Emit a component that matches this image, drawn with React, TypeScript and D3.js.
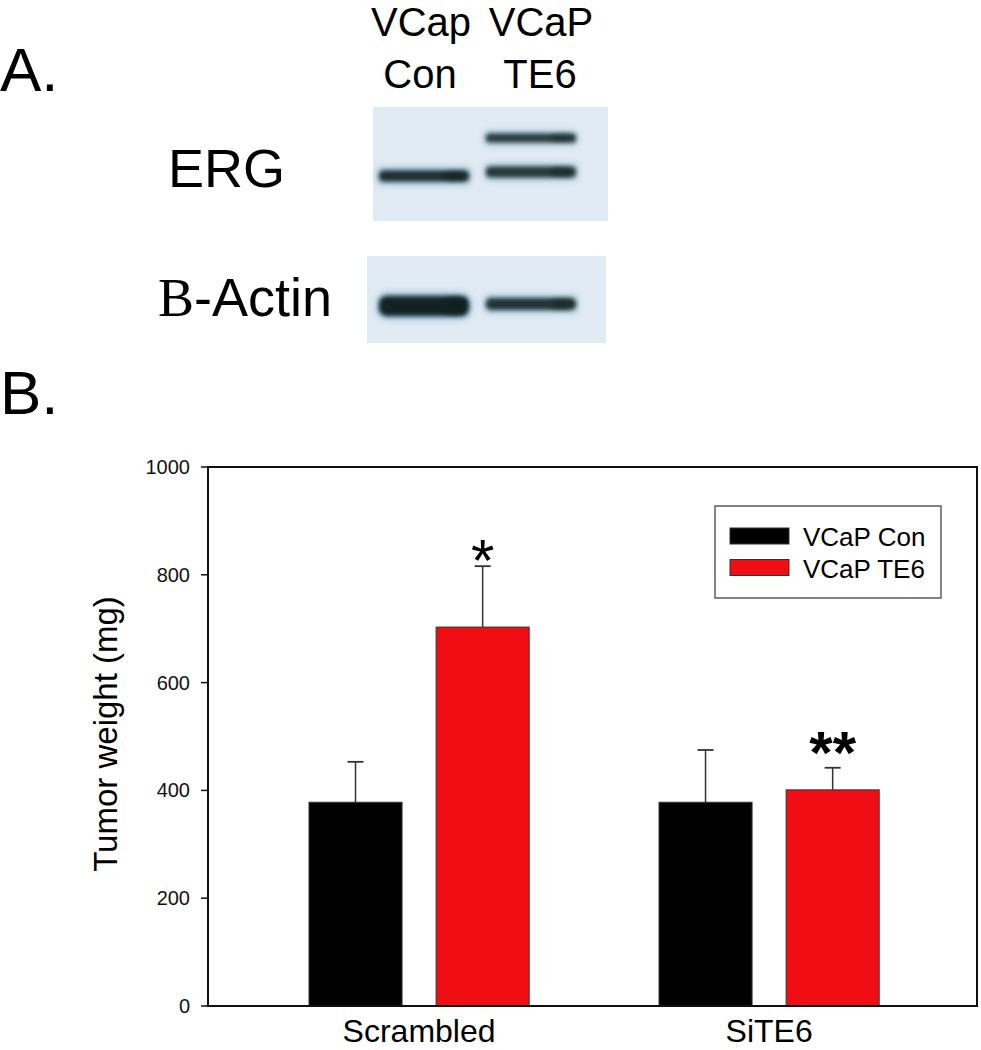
import React from "react";
import * as d3 from "d3";

// ---- Panel B data ----
const groups = ["Scrambled", "SiTE6"];
const seriesNames = ["VCaP Con", "VCaP TE6"];
const seriesColors = ["#000000", "#f10d14"];
const conMeans = [378, 378];
const conErrors = [75, 97];
const te6Means = [703, 401];
const te6Errors = [113, 41];
const te6Significance = ["*", "**"];
const yTicks = [0, 200, 400, 600, 800, 1000];

// ---- Panel A (blot) data ----
const laneTop = ["VCap", "VCaP"];
const laneBottom = ["Con", "TE6"];
const blotRows = ["ERG", "B-Actin"];
// relative band strength per lane (0..1)
const ergLowerBand = [0.85, 0.7];
const ergUpperBand = [0, 0.65];
const actinBand = [1.0, 0.75];

const FONT = "'Liberation Sans', Arial, Helvetica, sans-serif";

export default function App() {
  const W = 981;
  const H = 1050;

  const y = d3.scaleLinear().domain([0, 1000]).range([1006, 467]);
  const x0 = d3
    .scaleBand<string>()
    .domain(groups)
    .range([208, 977])
    .paddingInner(0.371)
    .paddingOuter(0.284)
    .align(0.508);
  const x1 = d3
    .scaleBand<string>()
    .domain(seriesNames)
    .range([0, x0.bandwidth()])
    .paddingInner(0.268);

  const series = [
    { name: seriesNames[0], means: conMeans, errs: conErrors, color: seriesColors[0] },
    { name: seriesNames[1], means: te6Means, errs: te6Errors, color: seriesColors[1] },
  ];

  // blot geometry
  const laneX = d3.scaleBand<number>().domain([0, 1]).range([377, 578]).paddingInner(0.12);
  const bandColor = "#0d1b1d";

  const band = (lane: number, cy: number, h: number, strength: number, key: string) => {
    if (strength <= 0) return null;
    const x = laneX(lane)!;
    const w = laneX.bandwidth();
    return (
      <g key={key}>
        <rect x={x} y={cy - h / 2 - 3} width={w} height={h + 6} rx={h / 2} fill="#3d86ad" opacity={0.5 * strength} filter="url(#blurWide)" />
        <rect x={x + 2} y={cy - h / 2} width={w - 4} height={h} rx={h / 2.5} fill={bandColor} opacity={0.55 + 0.4 * strength} filter="url(#blurCore)" />
        <ellipse cx={x + w * 0.82} cy={cy} rx={w * 0.12} ry={h * 0.45} fill={bandColor} opacity={0.5 * strength} filter="url(#blurCore)" />
      </g>
    );
  };

  return (
    <svg width={W} height={H} style={{ position: "absolute", left: 0, top: 0, background: "#fff" }} fontFamily={FONT}>
      <defs>
        <filter id="blurWide" x="-20%" y="-150%" width="140%" height="400%">
          <feGaussianBlur stdDeviation="3.5" />
        </filter>
        <filter id="blurCore" x="-20%" y="-150%" width="140%" height="400%">
          <feGaussianBlur stdDeviation="2.2" />
        </filter>
      </defs>

      {/* ---------- Panel A ---------- */}
      <text x={0} y={91} fontSize={62}>A.</text>
      {laneTop.map((t, i) => (
        <g key={t + i} fontSize={40} textAnchor="middle">
          <text x={[421, 541][i]} y={36}>{t}</text>
          <text x={[420, 540][i]} y={88}>{laneBottom[i]}</text>
        </g>
      ))}
      <text x={168} y={187} fontSize={54}>{blotRows[0]}</text>
      <text x={158} y={316} fontSize={54}>
        <tspan fontFamily="'Liberation Serif', 'Times New Roman', serif">B</tspan>
        <tspan>-Actin</tspan>
      </text>

      <rect x={373} y={107} width={235} height={114} fill="#e1ebf3" />
      {ergLowerBand.map((s, i) => band(i, i === 0 ? 176 : 172, 11, s, "el" + i))}
      {ergUpperBand.map((s, i) => band(i, 138, 9, s, "eu" + i))}

      <rect x={367} y={256} width={239} height={87} fill="#e1ebf3" />
      {actinBand.map((s, i) => band(i, i === 0 ? 306 : 304, i === 0 ? 20 : 12, s, "a" + i))}

      {/* ---------- Panel B ---------- */}
      <text x={0} y={414} fontSize={62}>B.</text>

      {/* bars */}
      {series.map((s) =>
        groups.map((g, gi) => {
          const bx = x0(g)! + x1(s.name)!;
          const bw = x1.bandwidth();
          const top = y(s.means[gi]);
          const cx = bx + bw / 2;
          return (
            <g key={s.name + g}>
              <line x1={cx} x2={cx} y1={top} y2={y(s.means[gi] + s.errs[gi])} stroke="#333" strokeWidth={1.5} />
              <line x1={cx - 8} x2={cx + 8} y1={y(s.means[gi] + s.errs[gi])} y2={y(s.means[gi] + s.errs[gi])} stroke="#333" strokeWidth={1.8} />
              <rect x={bx} y={top} width={bw} height={y(0) - top} fill={s.color} stroke="#333" strokeWidth={1} />
            </g>
          );
        })
      )}

      {/* significance marks */}
      {groups.map((g, gi) => {
        const cx = x0(g)! + x1(seriesNames[1])! + x1.bandwidth() / 2;
        const topErr = y(te6Means[gi] + te6Errors[gi]);
        const mark = te6Significance[gi];
        return (
          <text
            key={"sig" + g}
            x={cx}
            y={mark.length > 1 ? topErr + 5 : topErr + 15}
            fontSize={60}
            fontWeight={mark.length > 1 ? "bold" : "normal"}
            textAnchor="middle"
          >
            {mark}
          </text>
        );
      })}

      {/* frame */}
      <rect x={208} y={467} width={769} height={539} fill="none" stroke="#111" strokeWidth={2} />

      {/* y ticks */}
      {yTicks.map((t) => (
        <g key={"t" + t}>
          <line x1={201} x2={208} y1={y(t)} y2={y(t)} stroke="#111" strokeWidth={1.5} />
          <text x={190} y={y(t)} dy="0.35em" fontSize={20} textAnchor="end" fill="#111">
            {t}
          </text>
        </g>
      ))}

      {/* y title */}
      <text transform={`translate(117, 734) rotate(-90)`} fontSize={33} textAnchor="middle">
        Tumor weight (mg)
      </text>

      {/* x labels */}
      {groups.map((g) => (
        <text key={"xl" + g} x={x0(g)! + x0.bandwidth() / 2} y={1042} fontSize={32} textAnchor="middle">
          {g}
        </text>
      ))}

      {/* legend */}
      <rect x={715} y={506} width={226} height={92} fill="#fff" stroke="#333" strokeWidth={1.2} />
      {series.map((s, i) => (
        <g key={"lg" + s.name}>
          <rect x={730} y={528 + i * 31.5} width={59} height={16} fill={s.color} stroke="#333" strokeWidth={1} />
          <text x={803} y={546 + i * 31.5} fontSize={26}>
            {s.name}
          </text>
        </g>
      ))}
    </svg>
  );
}
